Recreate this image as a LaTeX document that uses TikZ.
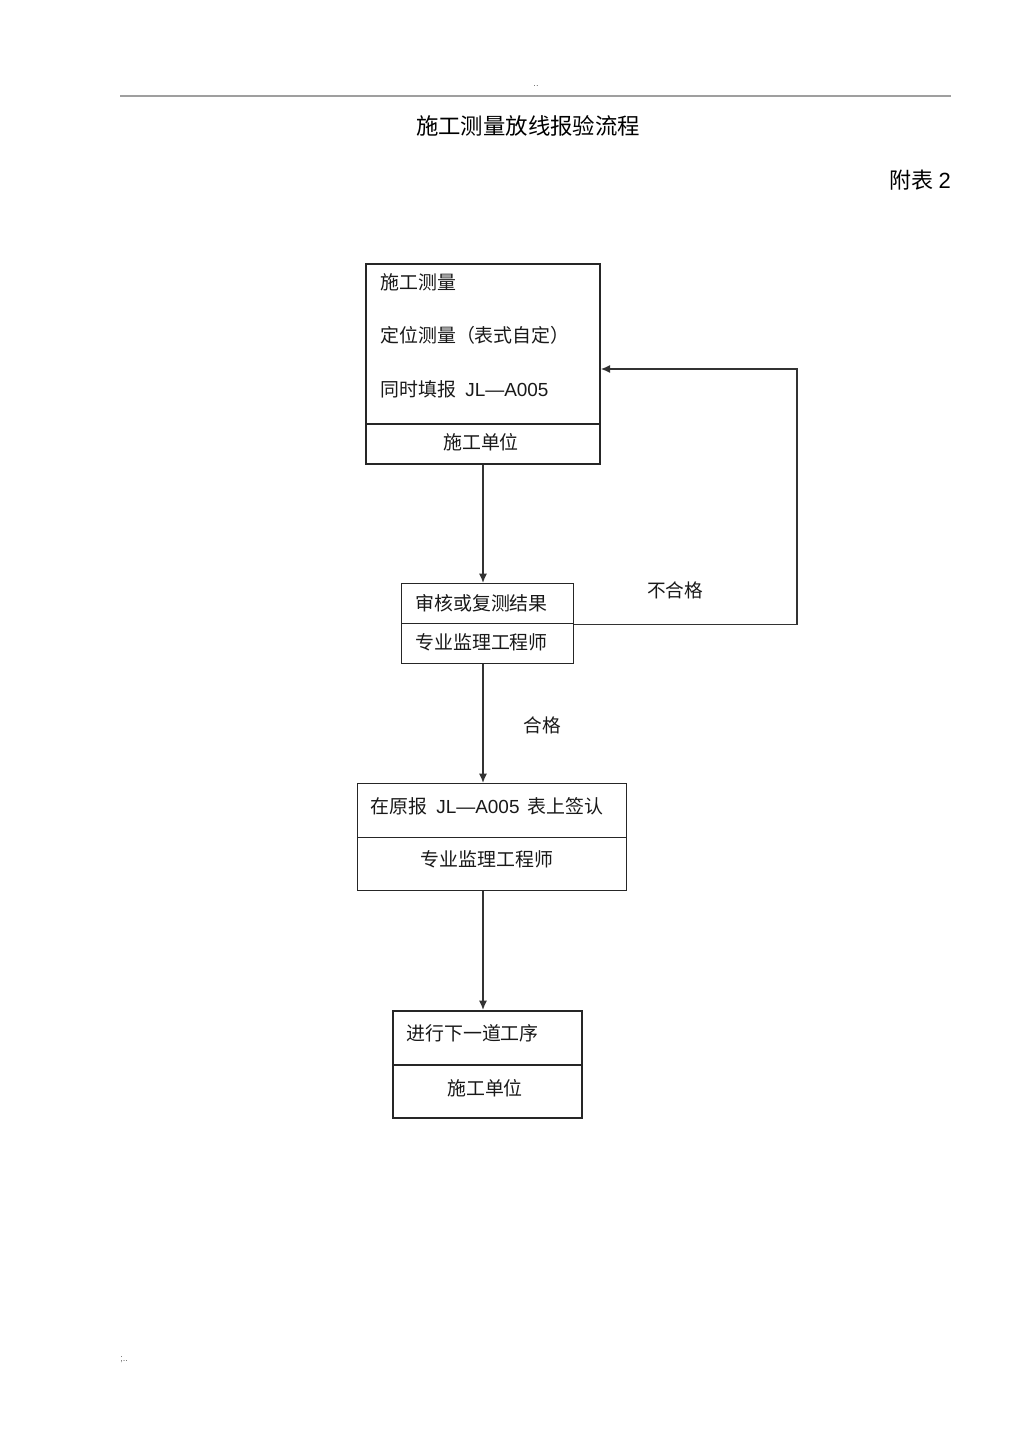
\documentclass[tikz,border=0pt]{standalone}
\usepackage{fontspec}
\setmainfont{Liberation Sans}
\newfontfamily\cjk{Noto Sans CJK SC}
\usetikzlibrary{arrows.meta}
\begin{document}
\begin{tikzpicture}[x=0.75pt,y=-0.75pt,
  part/.style={draw=black!85, line width=1pt, inner sep=0pt, anchor=north west},
  boxtxt/.style={inner sep=0pt, font=\fontsize{14.2}{16}\selectfont, text=black!90},
  lefttxt/.style={boxtxt, anchor=west},
  lbl/.style={inner sep=0pt, font=\fontsize{14}{16}\selectfont\cjk, text=black!90},
  arrow/.style={draw=black!80, line width=1.1pt, -{Latex[length=7pt,width=6pt]}}]
\useasboundingbox (0,0) rectangle (1024,1449);
% header
\draw[gray!75, line width=1.7pt] (120,96) -- (951,96);
\node[inner sep=0pt, font=\fontsize{7}{8}\selectfont, text=black!60] (dots) at (536,86) {..};
\node[inner sep=0pt, font=\fontsize{16.8}{18}\selectfont\cjk] (title) at (528,126) {施工测量放线报验流程};
\node[inner sep=0pt, anchor=east, font=\fontsize{16.5}{18}\selectfont] (fb2) at (951,180) {{\cjk 附表}\hspace{4pt}2};
\node[inner sep=0pt, anchor=west, font=\fontsize{7}{8}\selectfont, text=black!60] (foot) at (120,1360) {;..};
% box 1
\node[part, line width=1.3pt, minimum width={234*0.75pt}, minimum height={160*0.75pt}] (b1t) at (365,263) {};
\node[part, line width=1.3pt, minimum width={234*0.75pt}, minimum height={40*0.75pt}] (b1b) at (365,423) {};
\node[lefttxt] (t11) at (380,282) {\cjk 施工测量};
\node[lefttxt] (t12) at (380,335) {\cjk 定位测量（表式自定）};
\node[lefttxt] (t13) at (380,389) {{\cjk 同时填报}\hspace{7pt}JL—A005};
\node[boxtxt] (t14) at (481,442) {\cjk 施工单位};
% box 2
\node[part, minimum width={172*0.75pt}, minimum height={40*0.75pt}] (b2t) at (401,583) {};
\node[part, minimum width={172*0.75pt}, minimum height={40*0.75pt}] (b2b) at (401,623) {};
\node[lefttxt] (t21) at (415,603) {\cjk 审核或复测结果};
\node[lefttxt] (t22) at (415,642) {\cjk 专业监理工程师};
% box 3
\node[part, minimum width={269*0.75pt}, minimum height={54*0.75pt}] (b3t) at (357,783) {};
\node[part, minimum width={269*0.75pt}, minimum height={53*0.75pt}] (b3b) at (357,837) {};
\node[lefttxt] (t31) at (370,806) {{\cjk 在原报}\hspace{7pt}JL—A005\hspace{6pt}{\cjk 表上签认}};
\node[boxtxt] (t32) at (487,859) {\cjk 专业监理工程师};
% box 4
\node[part, line width=1.2pt, minimum width={189*0.75pt}, minimum height={54*0.75pt}] (b4t) at (392,1010) {};
\node[part, line width=1.2pt, minimum width={189*0.75pt}, minimum height={53*0.75pt}] (b4b) at (392,1064) {};
\node[lefttxt] (t41) at (406,1033) {\cjk 进行下一道工序};
\node[boxtxt] (t42) at (485,1088) {\cjk 施工单位};
% connectors
\coordinate (ax) at (483,0);
\coordinate (fb) at (797,369);
\draw[arrow] (b1b.south -| ax) -- (b2t.north -| ax);
\draw[arrow] (b2b.south -| ax) -- (b3t.north -| ax);
\draw[arrow] (b3b.south -| ax) -- (b4t.north -| ax);
\draw[arrow] (b2t.south east) -| (fb) -- (fb -| b1t.east);
\node[lbl] (ng) at (675,590) {不合格};
\node[lbl] (ok) at (542,725) {合格};
\end{tikzpicture}
\end{document}
